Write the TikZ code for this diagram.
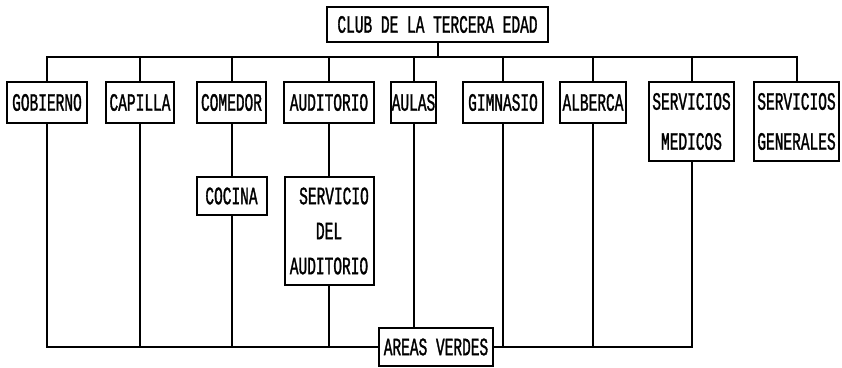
\documentclass[tikz,border=0pt]{standalone}
\usepackage{fontspec}
\newfontfamily\typefont[FakeStretch=0.58,FakeBold=1.2]{Liberation Mono}
\usepackage{tikz}
\usetikzlibrary{positioning}

\begin{document}
\begin{tikzpicture}[
            x = 1pt, y = -1pt, % pixel grid of the scan
            line width = 2pt, % line style
            unit/.style = {draw, rectangle, inner sep = 0pt, align = center,
                font = \typefont\fontsize{25}{40}\selectfont},
            wide/.style = {minimum height = 41pt}
        ]

    \useasboundingbox (0,0) rectangle (842,367);

    \node[unit, minimum width = 221pt, minimum height = 35pt] (club) at (437.5,24.5) {CLUB DE LA TERCERA EDAD};

    \node[unit, wide, minimum width = 80pt] (gob) at (47,102.5) {GOBIERNO};
	\node[unit, wide, minimum width = 68pt] (cap) at (140,102.5) {CAPILLA};
	\node[unit, wide, minimum width = 69pt] (com) at (231.5,102.5) {COMEDOR};
	\node[unit, wide, minimum width = 90pt] (aud) at (329,102.5) {AUDITORIO};
	\node[unit, wide, minimum width = 45pt] (aul) at (413.5,102.5) {AULAS};
	\node[unit, wide, minimum width = 80pt] (gim) at (503,102.5) {GIMNASIO};
	\node[unit, wide, minimum width = 66pt] (alb) at (593,102.5) {ALBERCA};
	\node[unit, minimum width = 85pt, minimum height = 79pt] (smed) at (691.5,121.5) {SERVICIOS\\MEDICOS};
	\node[unit, minimum width = 85pt, minimum height = 79pt] (sgen) at (796.5,121.5) {SERVICIOS\\GENERALES};

	\node[unit, minimum width = 70pt, minimum height = 38pt] (coc) at (231.5,196) {COCINA};
	\node[unit, minimum width = 89pt, minimum height = 108pt,
	    font = \typefont\fontsize{25}{35}\selectfont] (sda) at (329,231) {\hspace{10pt}SERVICIO\\DEL\\AUDITORIO};

	\node[unit, minimum width = 114pt, minimum height = 38pt] (verdes) at (436,347) {AREAS VERDES};

	\coordinate (bus) at (437.5,57);

	% upper tree
	\draw (club) -- (bus);
	\draw (gob.north) |- (bus) -| (sgen.north);
	\foreach \n in {cap,com,aud,aul,gim,alb,smed}
	    \draw (\n.north) -- (\n.north |- bus);

	% lower links
	\draw (com) -- (coc);
	\draw (aud) -- (sda);
	\draw (gob.south) |- (verdes.west);
	\draw (smed.south) |- (verdes.east);
	\foreach \n in {cap,coc,sda,gim,alb}
	    \draw (\n.south) -- (\n.south |- verdes.west);
	\draw (aul.south) -- (aul.south |- verdes.north);

\end{tikzpicture}
\end{document}
